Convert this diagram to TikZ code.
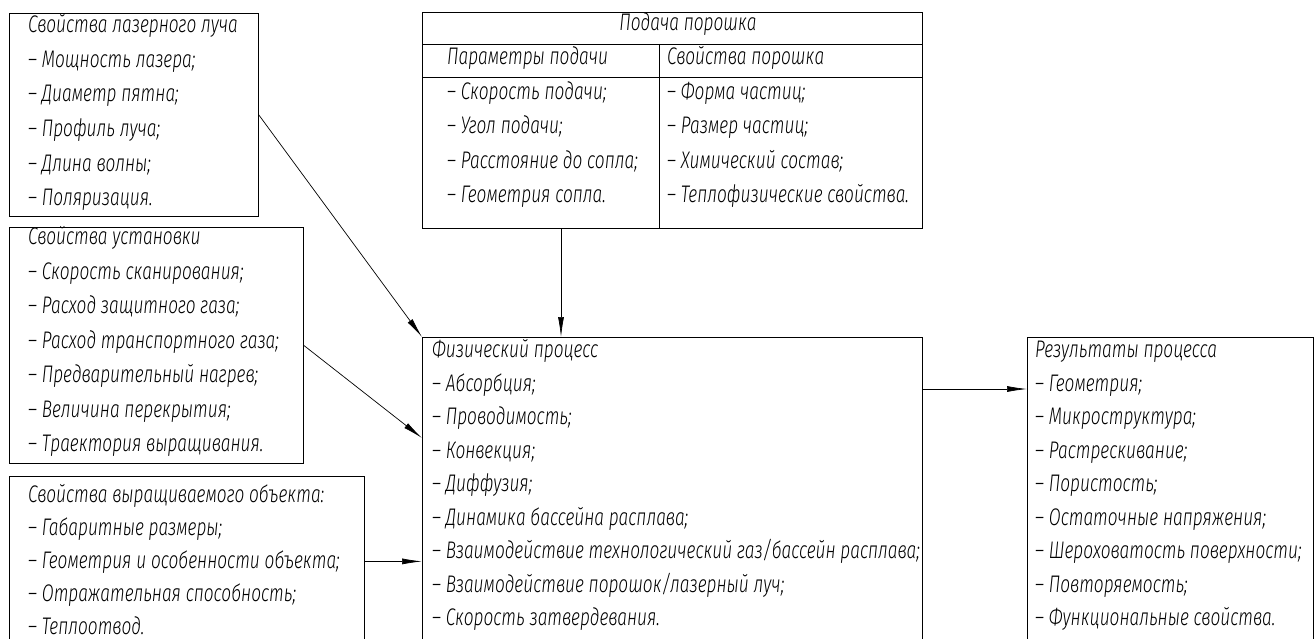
\documentclass[tikz,border=0pt]{standalone}
\usepackage{fontspec}
\setmainfont{Fira Sans Light}[FakeStretch=0.72]
\usetikzlibrary{arrows.meta}

\begin{document}
\begin{tikzpicture}[x=1pt, y=-1pt,
  box/.style={draw, line width=0.8pt, inner sep=0pt, anchor=north west},
  txt/.style={anchor=mid west, inner sep=0pt, font=\fontsize{24}{28}\selectfont\itshape},
  arr/.style={-{Latex[length=20pt,width=6pt]}, line width=0.7pt}]

\useasboundingbox (0,0) rectangle (1316,639);

% Laser beam
\node[box, minimum width=249pt, minimum height=203pt] (laser) at (9,13) {};
\foreach \t [count=\i from 0] in {Свойства лазерного луча, – Мощность лазера;, – Диаметр пятна;,
    – Профиль луча;, – Длина волны;, – Поляризация.}
  \node[txt] (laser-\i) at (28, 30+34.6*\i) {\t};

% Machine
\node[box, minimum width=294pt, minimum height=236pt] (setup) at (9,227) {};
\foreach \t [count=\i from 0] in {Свойства установки, – Скорость сканирования;, – Расход защитного газа;,
    – Расход транспортного газа;, – Предварительный нагрев;, – Величина перекрытия;,
    – Траектория выращивания.}
  \node[txt] (setup-\i) at (28, 242+34.5*\i) {\t};

% Grown part
\node[box, minimum width=355pt, minimum height=170pt] (obj) at (9,476) {};
\foreach \t [count=\i from 0] in {Свойства выращиваемого объекта:, – Габаритные размеры;,
    – Геометрия и особенности объекта;, – Отражательная способность;, – Теплоотвод.}
  \node[txt] (obj-\i) at (28, 500+33*\i) {\t};

% Powder feed
\node[box, minimum width=500pt, minimum height=216pt] (powder) at (422,12) {};
\draw[line width=0.8pt] (422,44) -- (922,44);
\draw[line width=0.8pt] (422,77) -- (922,77);
\draw[line width=0.8pt] (659,44) -- (659,228);
\node[txt, anchor=mid] (powder-t) at (688,28) {Подача порошка};
\foreach \t [count=\i from 0] in {Параметры подачи, – Скорость подачи;, – Угол подачи;,
    – Расстояние до сопла;, – Геометрия сопла.}
  \node[txt] (feed-\i) at (447, 62+34.5*\i) {\t};
\foreach \t [count=\i from 0] in {Свойства порошка, – Форма частиц;, – Размер частиц;,
    – Химический состав;, – Теплофизические свойства.}
  \node[txt] (prop-\i) at (667, 62+34.5*\i) {\t};

% Physical process
\node[box, minimum width=500pt, minimum height=313pt] (phys) at (422,337) {};
\foreach \t [count=\i from 0] in {Физический процесс, – Абсорбция;, – Проводимость;, – Конвекция;,
    – Диффузия;, – Динамика бассейна расплава;,
    – Взаимодействие технологический газ/бассейн расплава;,
    – Взаимодействие порошок/лазерный луч;, – Скорость затвердевания.}
  \node[txt] (phys-\i) at (432, 355+33.5*\i) {\t};

% Results
\node[box, minimum width=286pt, minimum height=313pt] (res) at (1027,337) {};
\foreach \t [count=\i from 0] in {Результаты процесса, – Геометрия;, – Микроструктура;,
    – Растрескивание;, – Пористость;, – Остаточные напряжения;,
    – Шероховатость поверхности;, – Повторяемость;, – Функциональные свойства.}
  \node[txt] (res-\i) at (1035, 355+33.5*\i) {\t};

% arrows
\coordinate (feed) at (561,228);
\coordinate (in2) at (422,438);
\coordinate (out) at (922,389);
\draw[arr] (laser.east) -- (phys.north west);
\draw[arr] (setup.east) -- (in2);
\draw[arr] (obj.east) -- (obj.east -| phys.west);
\draw[arr] (feed) -- (feed |- phys.north);
\draw[arr] (out) -- (out -| res.west);

\end{tikzpicture}
\end{document}
